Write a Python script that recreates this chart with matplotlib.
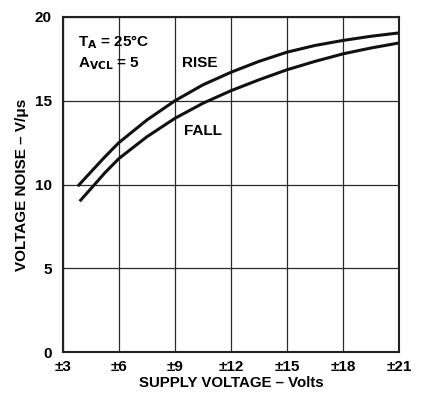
import matplotlib
matplotlib.use("Agg")
from matplotlib import pyplot as plt

plt.rcParams['font.family'] = ['Liberation Sans', 'DejaVu Sans']
plt.rcParams['font.weight'] = 'bold'

# supply voltage (±V) and slew rate (V/us)
rise_x = [3.8, 4.5, 5.25, 6, 7.5, 9, 10.5, 12, 13.5, 15, 16.5, 18, 19.5, 21]
rise_y = [9.9, 10.75, 11.65, 12.5, 13.85, 15.0, 15.95, 16.7, 17.35, 17.9,
          18.3, 18.6, 18.85, 19.05]
fall_x = [3.9, 4.5, 5.25, 6, 7.5, 9, 10.5, 12, 13.5, 15, 16.5, 18, 19.5, 21]
fall_y = [9.0, 9.75, 10.7, 11.55, 12.85, 13.95, 14.85, 15.6, 16.25, 16.85,
          17.35, 17.8, 18.15, 18.45]

xticks = [3, 6, 9, 12, 15, 18, 21]
xlabels = ['±3', '±6', '±9', '±12', '±15', '±18', '±21']
yticks = [0, 5, 10, 15, 20]

fig = plt.figure(figsize=(4.22, 4.0), dpi=100)
ax = fig.add_axes([0.149, 0.12, 0.7965, 0.8375])

ax.plot(rise_x, rise_y, color='#111111', linewidth=2.2,
        solid_capstyle='butt', solid_joinstyle='round')
ax.plot(fall_x, fall_y, color='#111111', linewidth=2.2,
        solid_capstyle='butt', solid_joinstyle='round')

ax.set_xlim(3, 21)
ax.set_ylim(0, 20)
ax.set_xticks(xticks)
ax.set_xticklabels(xlabels)
ax.set_yticks(yticks)
ax.grid(True, color='#2a2a2a', linewidth=0.9)
ax.tick_params(length=0, labelsize=11)
ax.tick_params(axis='x', pad=6)
ax.tick_params(axis='y', pad=8)
for s in ax.spines.values():
    s.set_linewidth(1.5)
    s.set_color('#222222')

ax.set_xlabel('SUPPLY VOLTAGE – Volts', fontsize=10.8, fontweight='bold', labelpad=1)
ax.set_ylabel('VOLTAGE NOISE – V/μs', fontsize=11, fontweight='bold', labelpad=4)

ax.text(3.8, 18.25, r'T$_\mathbf{A}$ = 25°C', fontsize=11, fontweight='bold', va='baseline')
ax.text(3.8, 17.0, r'A$_\mathbf{VCL}$ = 5', fontsize=11, fontweight='bold', va='baseline')
ax.text(9.375, 17.0, 'RISE', fontsize=11, fontweight='bold', va='baseline')
ax.text(9.48, 12.96, 'FALL', fontsize=11, fontweight='bold', va='baseline')

fig.savefig('out.png', dpi=100)
